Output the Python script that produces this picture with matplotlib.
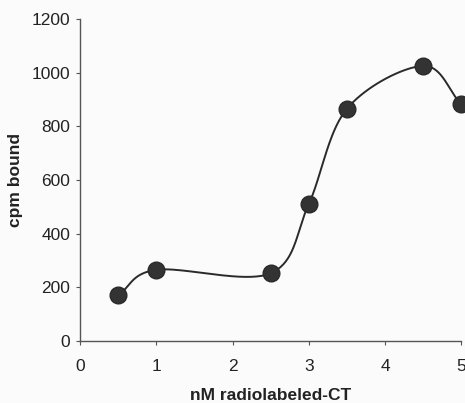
import numpy as np
import matplotlib.pyplot as plt

# data
conc_nM = [0.5, 1.0, 2.5, 3.0, 3.5, 4.5, 5.0]
cpm_bound = [170, 265, 252, 510, 865, 1025, 882]
x_ticks = [0, 1, 2, 3, 4, 5]
y_ticks = [0, 200, 400, 600, 800, 1000, 1200]

plt.rcParams['font.family'] = ['Liberation Sans', 'DejaVu Sans']


def smooth_curve(x, y, n=40):
    """Excel style smoothed line (Catmull-Rom through the points)."""
    x = np.asarray(x, float)
    y = np.asarray(y, float)
    px = np.concatenate([[2 * x[0] - x[1]], x, [2 * x[-1] - x[-2]]])
    py = np.concatenate([[2 * y[0] - y[1]], y, [2 * y[-1] - y[-2]]])
    xs, ys = [], []
    t = np.linspace(0, 1, n)
    for i in range(1, len(px) - 2):
        p0, p1, p2, p3 = px[i - 1], px[i], px[i + 1], px[i + 2]
        q0, q1, q2, q3 = py[i - 1], py[i], py[i + 1], py[i + 2]
        # bezier control points with 1/6 tension
        c1x, c1y = p1 + (p2 - p0) / 6, q1 + (q2 - q0) / 6
        c2x, c2y = p2 - (p3 - p1) / 6, q2 - (q3 - q1) / 6
        b0 = (1 - t) ** 3
        b1 = 3 * (1 - t) ** 2 * t
        b2 = 3 * (1 - t) * t ** 2
        b3 = t ** 3
        xs.append(b0 * p1 + b1 * c1x + b2 * c2x + b3 * p2)
        ys.append(b0 * q1 + b1 * c1y + b2 * c2y + b3 * q2)
    return np.concatenate(xs), np.concatenate(ys)


fig = plt.figure(figsize=(4.65, 4.03), dpi=100, facecolor='#fbfbfb')
ax = fig.add_axes([0.172, 0.154, 0.82, 0.799])
ax.set_facecolor('#fbfbfb')

sx, sy = smooth_curve(conc_nM, cpm_bound)
ax.plot(sx, sy, color='#2a2a2a', lw=1.4, clip_on=False)
ax.plot(conc_nM, cpm_bound, 'o', color='#333333', markersize=12,
        markeredgecolor='#2a2a2a', clip_on=False)

ax.set_xlim(0, 5)
ax.set_ylim(0, 1200)
ax.set_xticks(x_ticks)
ax.set_yticks(y_ticks)

for s in ['top', 'right']:
    ax.spines[s].set_visible(False)
for s in ['left', 'bottom']:
    ax.spines[s].set_color('#555555')
    ax.spines[s].set_linewidth(1.0)

ax.tick_params(axis='both', labelsize=12.5, colors='#555555',
               labelcolor='#222222', length=3, width=0.8)
ax.tick_params(axis='x', pad=10)
ax.tick_params(axis='y', pad=4)

ax.set_xlabel('nM radiolabeled-CT', fontsize=12.5, fontweight='bold',
              color='#222222', labelpad=10)
ax.set_ylabel('cpm bound', fontsize=12.5, fontweight='bold',
              color='#222222', labelpad=6)

fig.savefig('out.png', dpi=100, facecolor=fig.get_facecolor())
